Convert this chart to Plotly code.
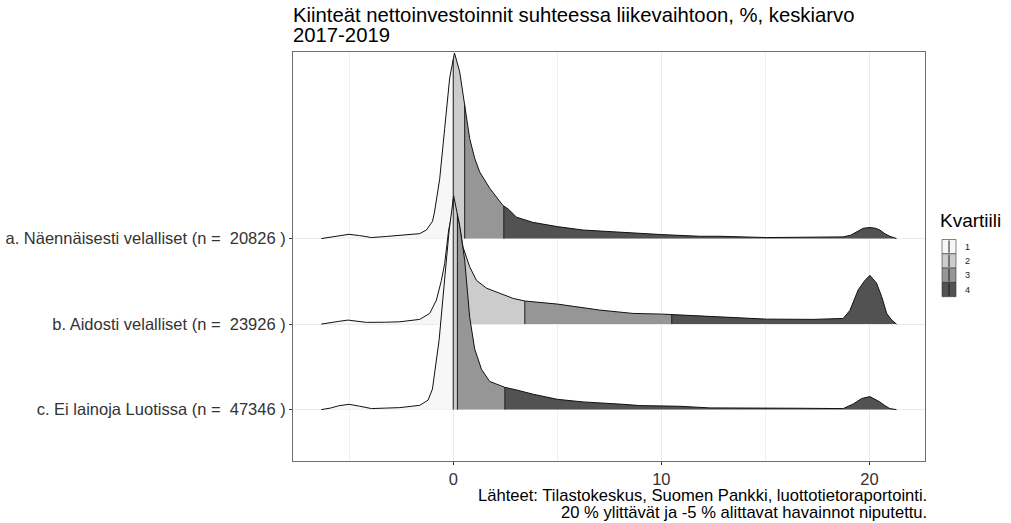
import numpy as np
import plotly.graph_objects as go

# ---------------- data ----------------
categories = [
    "c. Ei lainoja Luotissa (n =\u00a0 47346 )",
    "b. Aidosti velalliset (n =\u00a0 23926 )",
    "a. Näennäisesti velalliset (n =\u00a0 20826 )",
]
row_positions = [1, 2, 3]

x_ticks = [0, 10, 20]
x_minor = [-5, 5, 15]

quartile_labels = ["1", "2", "3", "4"]
quartile_colors = ["#F7F7F7", "#CCCCCC", "#969696", "#525252"]

# a. Näennäisesti velalliset
a_x = [-6.34, -5.9, -5.5, -5.01, -4.5, -3.93, -3.2, -2.57, -1.61, -1.29, -1.0, -0.9,
       -0.65, -0.41, -0.17, 0.06, 0.31, 0.55, 0.79, 1.03, 1.27, 1.75, 2.38, 2.67,
       3.04, 3.82, 5.0, 6.23, 8.63, 10.0, 11.85, 12.8, 15.06, 17.1, 18.73, 19.1,
       19.38, 19.7, 20.02, 20.3, 20.5, 20.75, 20.98, 21.3]
a_h = [0.0, 0.015, 0.035, 0.05, 0.035, 0.012, 0.025, 0.039, 0.058, 0.10, 0.2, 0.31,
       0.7, 1.29, 1.88, 2.17, 1.95, 1.56, 1.17, 0.94, 0.78, 0.59, 0.39, 0.34,
       0.25, 0.19, 0.14, 0.10, 0.065, 0.047, 0.027, 0.027, 0.012, 0.012, 0.02, 0.04,
       0.08, 0.12, 0.13, 0.12, 0.10, 0.055, 0.027, 0.0]
a_q = [0.0, 0.55, 2.43]

# b. Aidosti velalliset
b_x = [-6.34, -5.9, -5.5, -5.06, -4.6, -4.17, -3.3, -2.57, -1.61, -1.13, -0.81,
       -0.57, -0.41, -0.22, 0.04, 0.26, 0.47, 0.79, 1.12, 1.6, 2.24, 2.88, 3.44,
       5.01, 7.04, 8.63, 10.0, 11.85, 13.62, 15.06, 17.3, 18.74, 19.06, 19.26,
       19.46, 19.78, 20.02, 20.34, 20.59, 20.83, 21.07, 21.3]
b_h = [0.0, 0.013, 0.032, 0.047, 0.035, 0.02, 0.022, 0.027, 0.055, 0.125, 0.28,
       0.51, 0.71, 1.1, 1.4, 1.2, 0.9, 0.67, 0.51, 0.42, 0.36, 0.30, 0.27,
       0.234, 0.164, 0.125, 0.117, 0.097, 0.078, 0.058, 0.055, 0.066, 0.16, 0.28,
       0.4, 0.51, 0.57, 0.48, 0.32, 0.125, 0.047, 0.0]
b_q = [0.1, 3.44, 10.5]

# c. Ei lainoja Luotissa
c_x = [-6.34, -5.9, -5.5, -5.01, -4.5, -3.93, -3.2, -2.57, -1.61, -1.21, -1.0,
       -0.89, -0.81, -0.68, -0.41, -0.2, 0.02, 0.15, 0.31, 0.55, 0.79, 1.03, 1.36,
       1.75, 2.24, 2.48, 3.04, 3.84, 5.01, 6.24, 8.16, 8.97, 10.89, 12.33, 16.5,
       18.74, 19.22, 19.63, 20.02, 20.5, 20.75, 20.98, 21.3]
c_h = [0.0, 0.018, 0.045, 0.062, 0.04, 0.012, 0.018, 0.023, 0.05, 0.11, 0.24,
       0.41, 0.58, 0.81, 1.5, 2.09, 2.5, 2.36, 2.15, 1.75, 1.08, 0.71, 0.47,
       0.33, 0.28, 0.26, 0.23, 0.18, 0.12, 0.09, 0.062, 0.047, 0.039, 0.02, 0.016,
       0.012, 0.066, 0.13, 0.152, 0.09, 0.045, 0.012, 0.0]
c_q = [0.0, 0.2, 2.48]

title_lines = ["Kiinteät nettoinvestoinnit suhteessa liikevaihtoon, %, keskiarvo",
               "2017-2019"]
caption_lines = ["Lähteet: Tilastokeskus, Suomen Pankki, luottotietoraportointi.",
                 "20 % ylittävät ja -5 % alittavat havainnot niputettu."]
legend_title = "Kvartiili"

# ---------------- layout geometry ----------------
W, H = 1011, 523
PL, PR, PT, PB = 293, 925, 52, 461  # panel box in pixels
FONT = "Liberation Sans, Arial, sans-serif"


def px_x(px):
    return (px - PL) / (PR - PL)


def px_y(py):
    return (PB - py) / (PB - PT)


fig = go.Figure()


def add_ridge(xs, hs, qs, base):
    xs = np.asarray(xs, float)
    hs = np.asarray(hs, float)
    bounds = [xs[0]] + list(qs) + [xs[-1]]
    for i in range(4):
        lo, hi = bounds[i], bounds[i + 1]
        inside = (xs > lo) & (xs < hi)
        px = [lo, lo] + list(xs[inside]) + [hi, hi]
        py = [0.0, float(np.interp(lo, xs, hs))] + list(hs[inside]) + \
             [float(np.interp(hi, xs, hs)), 0.0]
        fig.add_trace(go.Scatter(
            x=px, y=[base + v for v in py], mode="lines", fill="toself",
            fillcolor=quartile_colors[i], line=dict(width=0, color=quartile_colors[i]),
            hoverinfo="skip", showlegend=False))
    for q in qs:
        fig.add_trace(go.Scatter(
            x=[q, q], y=[base, base + float(np.interp(q, xs, hs))], mode="lines",
            line=dict(color="#1a1a1a", width=1), hoverinfo="skip", showlegend=False))
    fig.add_trace(go.Scatter(
        x=xs, y=base + hs, mode="lines", line=dict(color="#111111", width=1),
        hoverinfo="skip", showlegend=False))


# draw top row first so lower rows overlap it
add_ridge(a_x, a_h, a_q, row_positions[2])
add_ridge(b_x, b_h, b_q, row_positions[1])
add_ridge(c_x, c_h, c_q, row_positions[0])

# ---------------- legend (drawn manually) ----------------
shapes = []
annotations = []
key_x0, key_x1 = 942, 956
key_top, key_h = 239.5, 14.3
for i, (lab, col) in enumerate(zip(quartile_labels, quartile_colors)):
    t = key_top + i * key_h
    b = t + key_h
    shapes.append(dict(type="rect", xref="paper", yref="paper",
                       x0=px_x(key_x0), x1=px_x(key_x1), y0=px_y(b), y1=px_y(t),
                       fillcolor=col, line=dict(color="#333333", width=0.6)))
    mx = (key_x0 + key_x1) / 2
    shapes.append(dict(type="line", xref="paper", yref="paper",
                       x0=px_x(mx), x1=px_x(mx), y0=px_y(b - 1), y1=px_y(t + 1),
                       line=dict(color="#1a1a1a", width=1)))
    annotations.append(dict(text=lab, xref="paper", yref="paper",
                            x=px_x(963), y=px_y((t + b) / 2), xanchor="left",
                            yanchor="middle", showarrow=False,
                            font=dict(family=FONT, size=9, color="#1a1a1a")))

annotations.append(dict(text=legend_title, xref="paper", yref="paper",
                        x=px_x(938), y=px_y(220), xanchor="left", yanchor="middle",
                        showarrow=False, font=dict(family=FONT, size=19, color="#000000")))

for k, (line, cy) in enumerate(zip(title_lines, [15.5, 35.5])):
    annotations.append(dict(text=line, xref="paper", yref="paper",
                            x=px_x(291), y=px_y(cy), xanchor="left", yanchor="middle",
                            align="left", showarrow=False,
                            font=dict(family=FONT, size=20.3, color="#000000")))

for k, (line, cy) in enumerate(zip(caption_lines, [496, 512])):
    annotations.append(dict(text=line, xref="paper", yref="paper",
                            x=px_x(929), y=px_y(cy), xanchor="right", yanchor="middle",
                            align="right", showarrow=False,
                            font=dict(family=FONT, size=16.6, color="#000000")))

fig.update_layout(
    width=W, height=H,
    margin=dict(l=PL, r=W - PR, t=PT, b=H - PB, pad=0, autoexpand=False),
    paper_bgcolor="white", plot_bgcolor="white",
    showlegend=False,
    shapes=shapes, annotations=annotations,
    font=dict(family=FONT),
    xaxis=dict(
        range=[-7.70, 22.67], tickvals=x_ticks, ticktext=[str(v) for v in x_ticks],
        showgrid=True, gridcolor="#EBEBEB", gridwidth=1, zeroline=False,
        minor=dict(tickvals=x_minor, showgrid=True, gridcolor="#F0F0F0", gridwidth=0.8,
                   ticks=""),
        ticks="outside", ticklen=3, tickcolor="#333333", tickwidth=1,
        showline=True, mirror=True, linecolor="#6e6e6e", linewidth=1,
        tickfont=dict(family=FONT, size=16.5, color="#333333"),
        automargin=False,
    ),
    yaxis=dict(
        range=[0.399, 5.182], tickvals=row_positions, ticktext=categories,
        showgrid=True, gridcolor="#EBEBEB", gridwidth=1, zeroline=False,
        ticks="outside", ticklen=3, tickcolor="#333333", tickwidth=1,
        showline=True, mirror=True, linecolor="#6e6e6e", linewidth=1,
        tickfont=dict(family=FONT, size=16.5, color="#333333"),
        automargin=False,
    ),
)

fig.write_html("out.html", config={"displayModeBar": False},
               post_script="document.body.style.margin='0';")
